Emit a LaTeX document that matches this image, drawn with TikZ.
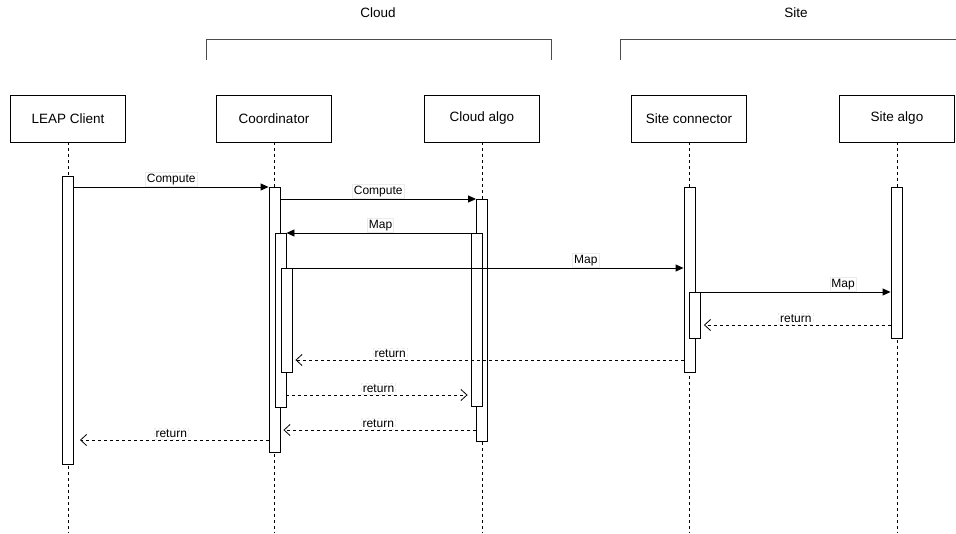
\documentclass[tikz,border=0pt]{standalone}
\usepackage{fontspec}
\setmainfont{Liberation Sans}
\usetikzlibrary{arrows.meta}
\tikzset{
  actor/.style={draw, line width=0.9pt, minimum width=115pt, minimum height=47pt, inner sep=0pt, font=\fontsize{13.5}{15}\selectfont},
  bar/.style={draw, fill=white, line width=0.9pt, minimum width=11pt, inner sep=0pt, anchor=north},
  life/.style={draw, line width=0.9pt, dash pattern=on 3pt off 3pt},
  msg/.style={draw, line width=0.9pt, -{Triangle[length=8pt,width=7pt]}},
  ret/.style={draw, line width=0.8pt, dash pattern=on 3pt off 3pt, shorten >=3pt, -{Straight Barb[length=6pt,width=11pt,line width=0.8pt]}},
  lbl/.style={fill=white, draw=black!8, inner sep=1.5pt, font=\fontsize{12}{13}\selectfont, above=0.5pt},
  grp/.style={draw, black!70, line width=1pt},
  grplbl/.style={font=\fontsize{13.5}{15}\selectfont}
}
\begin{document}
\begin{tikzpicture}[x=1pt,y=-1pt]
\useasboundingbox (0,0) rectangle (956,533);
% groups
\node[grplbl] (cloudlbl) at (378,13) {Cloud};
\node[grplbl] (sitelbl) at (796,13) {Site};
\draw[grp] (206,60) -- (206,39) -- (551,39) -- (551,60);
\draw[grp] (620,60) -- (620,39) -- (956,39);
% actors
\node[actor] (leap) at (68,118.5) {LEAP Client};
\node[actor] (coord) at (274,118.5) {Coordinator};
\node[actor] (cloud) at (482,118.5) {Cloud algo};
\node[actor] (sitec) at (689,118.5) {Site connector};
\node[actor] (sitea) at (897,118.5) {Site algo};
% lifelines
\coordinate (bot) at (0,533);
\foreach \a in {leap,coord,cloud,sitec,sitea}{
  \draw[life] (\a.south) -- (\a.south |- bot);
}
% activation bars
\node[bar, minimum height=288pt] (leapb) at (68,176) {};
\node[bar, minimum height=265pt] (coordb) at (274.5,187) {};
\node[bar, minimum height=174pt] (coordb2) at (280.5,233) {};
\node[bar, minimum height=104pt] (coordb3) at (286.5,268) {};
\node[bar, minimum height=242pt] (cloudb) at (482,199) {};
\node[bar, minimum height=173pt] (cloudb2) at (476.5,233) {};
\node[bar, minimum height=185pt] (sitecb) at (689.5,187) {};
\node[bar, minimum height=46pt] (sitecb2) at (695,292) {};
\node[bar, minimum height=151pt] (siteab) at (896.5,187) {};
% message levels
\coordinate (y6) at (0,325);
\coordinate (y7) at (0,360);
\coordinate (y8) at (0,395);
\coordinate (y9) at (0,430);
\coordinate (y10) at (0,440);
% messages
\draw[msg] (leapb.east |- coordb.north) -- node[lbl] {Compute} (coordb.north west);
\draw[msg] (coordb.east |- cloudb.north) -- node[lbl] {Compute} (cloudb.north west);
\draw[msg] (cloudb2.north west) -- node[lbl, xshift=2pt] {Map} (coordb2.north east);
\draw[msg] (coordb3.north east) -- node[lbl, pos=0.75] {Map} (sitecb.west |- coordb3.north);
\draw[msg] (sitecb2.north east) -- node[lbl, pos=0.75] {Map} (siteab.west |- sitecb2.north);
\draw[ret] (siteab.west |- y6) -- node[lbl, pos=0.5] {return} (sitecb2.east |- y6);
\draw[ret] (sitecb.west |- y7) -- node[lbl, pos=0.75] {return} (coordb3.east |- y7);
\draw[ret] (coordb2.east |- y8) -- node[lbl] {return} (cloudb2.west |- y8);
\draw[ret] (cloudb.west |- y9) -- node[lbl] {return} (coordb.east |- y9);
\draw[ret, shorten >=6pt] (coordb.west |- y10) -- node[lbl, pos=0.5] {return} (leapb.east |- y10);
\end{tikzpicture}
\end{document}
